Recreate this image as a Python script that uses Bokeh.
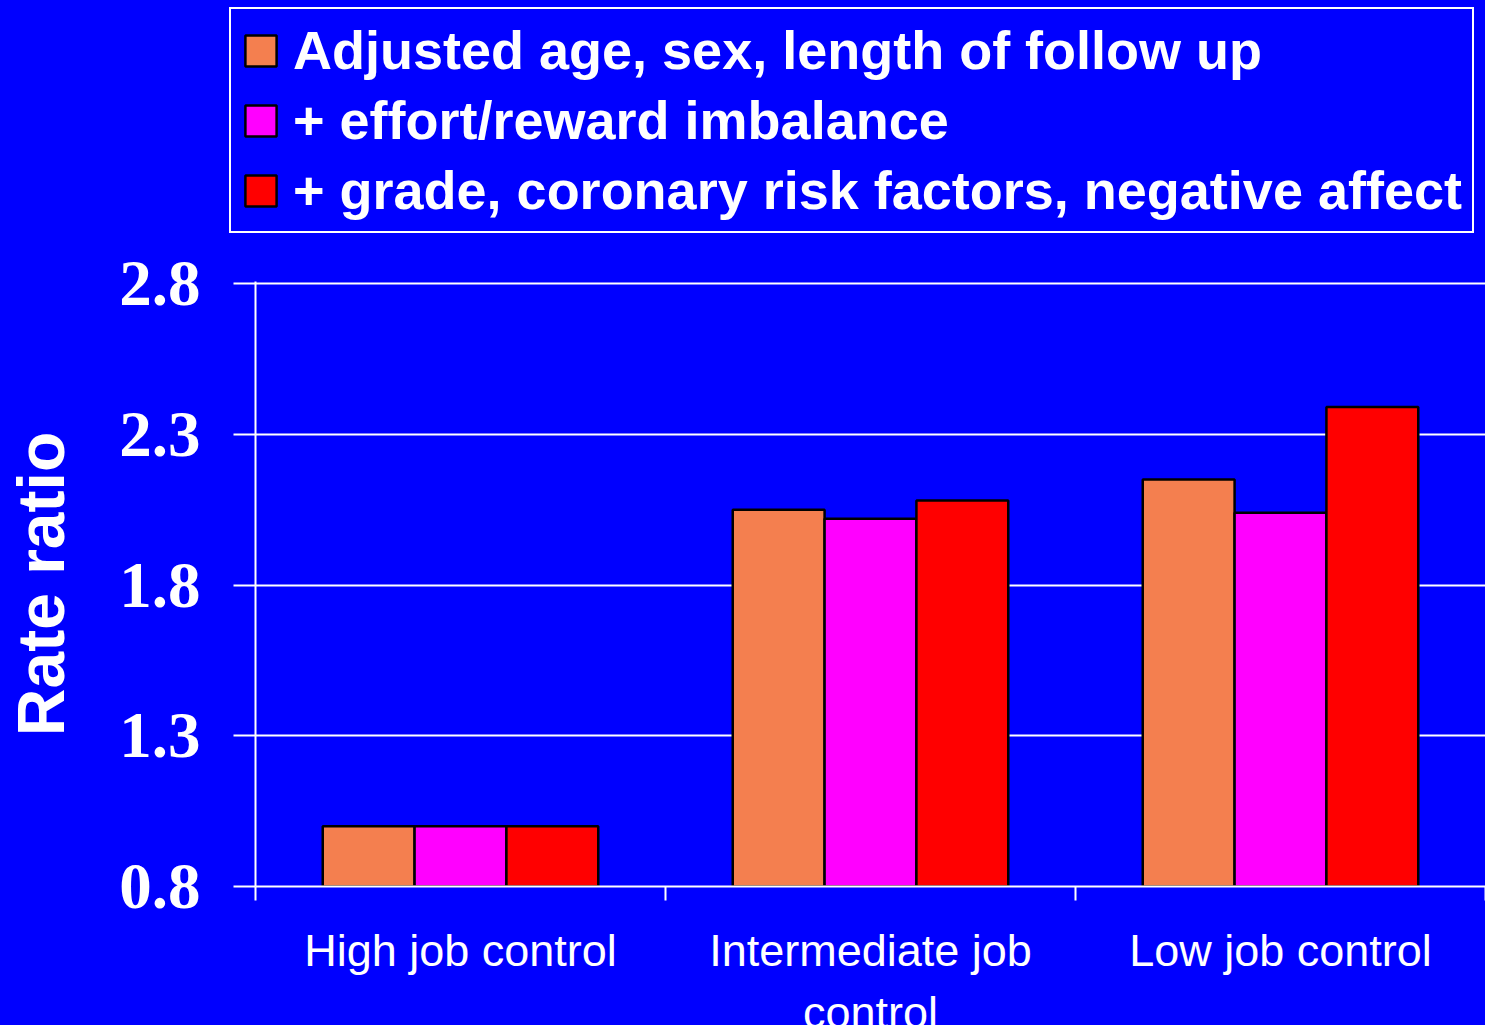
from bokeh.plotting import figure
from bokeh.layouts import column
from bokeh.models import Range1d, FixedTicker, PrintfTickFormatter, ColumnDataSource
from bokeh.core.properties import value
from bokeh.embed import file_html
from bokeh.resources import INLINE

categories = ["High job control", "Intermediate job\ncontrol", "Low job control"]
series_names = [
    "Adjusted age, sex, length of follow up",
    "+ effort/reward imbalance",
    "+ grade, coronary risk factors, negative affect",
]
adjusted = [1.0, 2.05, 2.15]
effort_reward = [1.0, 2.02, 2.04]
grade_risk = [1.0, 2.08, 2.39]
y_ticks = [0.8, 1.3, 1.8, 2.3, 2.8]

colors = ["#F47F4F", "#FF00FF", "#FF0000"]
BLUE = "#0000FF"
W = 1485
TOP_H, MAIN_H = 240, 684
BOT_H = 1025 - TOP_H - MAIN_H
FRAME_LEFT = 255
PX_PER_UNIT = 301.5

def base(h, **kw):
    f = figure(width=W, height=h, output_backend="svg", toolbar_location=None, **kw)
    f.background_fill_color = BLUE
    f.border_fill_color = BLUE
    f.outline_line_color = None
    f.styles = {"background-color": BLUE}
    return f

x_range = Range1d(0, 3)

# ---- legend strip ----
lf = base(TOP_H, x_range=Range1d(0, 1), y_range=Range1d(0, 1), x_axis_type=None, y_axis_type=None,
          min_border_left=0, min_border_right=0, min_border_top=0, min_border_bottom=0)
lf.frame_align = False
lf.grid.visible = False
for name, col in zip(series_names, colors):
    r = lf.vbar(x=[5], top=[0.5], bottom=0, width=0.1, fill_color=col, line_color="black",
                line_width=2.5, legend_label=name)
    r.visible = False
lg = lf.legend[0]
lg.location = (229, 7)
lg.click_policy = "none"
lg.inactive_fill_alpha = 0
lg.background_fill_color = BLUE
lg.background_fill_alpha = 1.0
lg.border_line_color = "white"
lg.border_line_alpha = 1.0
lg.border_line_width = 2
lg.label_text_color = "white"
lg.label_text_font = "Liberation Sans"
lg.label_text_font_style = "bold"
lg.label_text_font_size = "54px"
lg.glyph_width = 39
lg.glyph_height = 39
lg.label_standoff = 13
lg.padding = 10
lg.spacing = 8
lg.margin = 0

# ---- main chart ----
y_pad = 2 / PX_PER_UNIT
p = base(MAIN_H, x_range=x_range, y_range=Range1d(y_ticks[0], y_ticks[-1] + y_pad),
         min_border_left=FRAME_LEFT, min_border_right=0, min_border_top=281 - TOP_H,
         min_border_bottom=TOP_H + MAIN_H - 886)

bar_w = 0.224
offsets = [-bar_w, 0.0, bar_w]
for vals, col, off in zip([adjusted, effort_reward, grade_risk], colors, offsets):
    src = ColumnDataSource(dict(x=[i + 0.5 + off for i in range(len(categories))], top=vals))
    p.vbar(x="x", top="top", bottom=y_ticks[0], width=bar_w, source=src, fill_color=col,
           line_color="black", line_width=2.5)

xa = p.xaxis[0]
xa.ticker = FixedTicker(ticks=[], minor_ticks=[float(i) for i in range(len(categories) + 1)])
xa.major_tick_line_color = None
xa.major_tick_out = 0
xa.major_tick_in = 0
xa.major_label_standoff = 0
xa.minor_tick_line_color = "white"
xa.minor_tick_line_width = 2
xa.minor_tick_out = 14
xa.minor_tick_in = 0
xa.axis_line_color = "white"
xa.axis_line_width = 2

ya = p.yaxis[0]
ya.ticker = FixedTicker(ticks=y_ticks, minor_ticks=[])
ya.formatter = PrintfTickFormatter(format="%.1f")
ya.major_tick_out = 22
ya.major_tick_in = 0
ya.major_tick_line_color = "white"
ya.major_tick_line_width = 2
ya.minor_tick_line_color = None
ya.axis_line_color = "white"
ya.axis_line_width = 2
ya.major_label_text_color = "white"
ya.major_label_text_font = "Liberation Serif"
ya.major_label_text_font_style = "bold"
ya.major_label_text_font_size = "65px"
ya.major_label_standoff = 33
ya.axis_label = "Rate ratio"
ya.axis_label_text_color = "white"
ya.axis_label_text_font = "Liberation Sans"
ya.axis_label_text_font_style = "bold"
ya.axis_label_text_font_size = "66px"
ya.axis_label_standoff = 38

p.xgrid.grid_line_color = None
p.ygrid.ticker = FixedTicker(ticks=y_ticks)
p.ygrid.grid_line_color = "white"
p.ygrid.grid_line_width = 2

# ---- category labels strip ----
bf = base(BOT_H, x_range=x_range, y_range=Range1d(BOT_H, 0), x_axis_type=None, y_axis_type=None,
          min_border_left=FRAME_LEFT, min_border_right=0, min_border_top=0, min_border_bottom=0)
bf.grid.visible = False
label_top = max(0, 924 - (TOP_H + MAIN_H))
cat_src = ColumnDataSource(dict(x=[i + 0.5 for i in range(len(categories))],
                                y=[label_top] * len(categories), text=categories))
bf.text(x="x", y="y", text="text", source=cat_src, text_align="center", text_baseline="top",
        text_color="white", text_font=value("Liberation Sans"), text_font_size="45px",
        text_line_height=1.22)

layout = column(lf, p, bf, spacing=0, styles={"background-color": BLUE})
open("out.html", "w").write(file_html(layout, INLINE))
